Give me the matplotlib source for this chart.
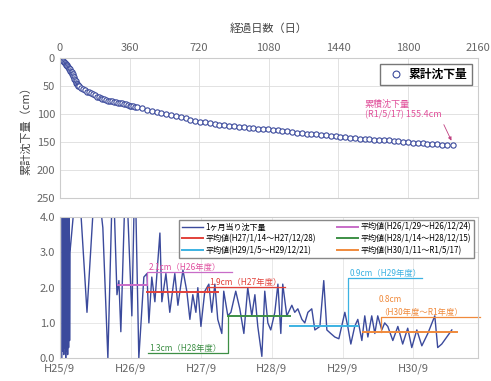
import matplotlib.pyplot as plt

plt.rcParams['font.family'] = ['Noto Sans CJK JP', 'DejaVu Sans']

# --- top: cumulative settlement (cm) vs elapsed days ---
days = [0, 3, 6, 9, 12, 15, 18, 21, 24, 27, 30, 33, 36, 39, 42, 45, 48, 51, 54, 57, 60,
        63, 66, 69, 72, 75, 78, 81, 84, 87, 90, 93, 96, 99,
        110, 120, 130, 140, 150, 160, 170, 180, 190, 200, 210, 220, 230, 240, 250, 260,
        270, 280, 290, 300, 310, 320, 330, 340, 350, 360, 370, 380, 390, 400,
        425, 450, 475, 500, 525, 550, 575, 600, 625, 650, 675, 700, 725, 750, 775, 800, 825,
        850, 875, 900, 925, 950, 975, 1000, 1025, 1050, 1075, 1100, 1125, 1150, 1175, 1200,
        1225, 1250, 1275, 1300, 1325, 1350, 1375, 1400, 1425, 1450, 1475, 1500, 1525, 1550,
        1575, 1600, 1625, 1650, 1675, 1700, 1725, 1750, 1775, 1800, 1825, 1850, 1875, 1900,
        1925, 1950, 1975, 2000, 2030]
settle = [0, 1, 2, 2.8, 3.6, 5, 6.2, 7.4, 8.6, 9.8, 11, 12.2, 13.5, 15.2, 16.8, 18, 19.2,
          20.6, 22.5, 24.3, 26, 27.8, 29.5, 32, 34.5, 37, 39.5, 42, 44, 45.7, 47, 48.3, 49.5,
          50.7,
          53, 56, 58, 60, 61.5, 63, 65, 67, 69, 70, 71.5, 73, 74, 75, 76, 76.5,
          77.5, 78, 79, 80, 80.5, 81, 82, 83, 84, 85, 85.5, 86.5, 87, 88,
          90, 92, 94.5, 97, 98.5, 100, 102, 104, 106, 108, 110, 112, 113.5, 115, 116.5, 118, 119,
          120, 121, 122, 123, 124, 124.5, 125, 126, 127, 127.5, 128, 129, 130, 131, 132,
          133, 134, 135, 136, 136.5, 137, 138, 139, 140, 141, 141.5, 142, 143, 144,
          144.5, 145, 145.5, 146, 146.5, 147, 148, 149, 149.5, 150, 151, 152, 152.5, 153,
          153.5, 154, 154.5, 155, 155.4]

# --- bottom: settlement per month (cm) ---
m_days = [10, 12, 15, 17, 20, 22, 25, 27, 30, 32, 35, 37, 40, 42, 45, 47, 50,
          52, 93, 140, 186, 222, 248, 274, 295, 305, 315, 341, 372, 388, 408, 434,
          450, 460, 475, 491, 517, 527, 548, 568, 594, 610, 636, 656, 672, 687, 703, 713,
          729, 749, 770, 785, 801, 816, 837, 847, 868, 884, 909, 930, 951, 971, 992, 1008,
          1023, 1044, 1059, 1075, 1090, 1111, 1127, 1142, 1152, 1173, 1199, 1214, 1230,
          1251, 1266, 1282, 1302, 1318, 1344, 1364, 1380, 1400, 1421, 1442, 1473, 1488,
          1504, 1524, 1540, 1561, 1576, 1592, 1612, 1628, 1643, 1664, 1679, 1695, 1721,
          1747, 1772, 1798, 1819, 1845, 1871, 1902, 1938, 1953, 1974, 2026]
m_vals = [0.0, 8, 0.2, 8, 0.1, 8, 0.3, 8, 0.0, 8, 0.2, 8, 0.1, 8, 0.3, 8, 0.5,
          3.0, 5.5, 1.3, 5.5, 3.7, 0.0, 5.5, 1.8, 2.2, 0.75, 5.5, 1.2, 5.5, 0.0, 2.3,
          2.4, 1.0, 2.3, 1.6, 3.55, 1.6, 2.4, 1.3, 2.4, 1.5, 2.5, 1.9, 1.1, 1.8, 1.3, 2.0,
          0.9, 1.9, 2.1, 1.3, 2.1, 1.1, 0.7, 1.9, 1.2, 1.3, 1.9, 1.4, 0.7, 2.0, 1.2, 1.8,
          0.9, 0.05, 1.9, 1.0, 0.8, 1.3, 2.1, 0.7, 2.1, 1.2, 1.5, 1.3, 1.4,
          1.1, 1.0, 1.3, 1.4, 0.8, 0.9, 2.2, 0.8, 0.7, 0.6, 0.55, 1.3, 0.9,
          0.4, 0.9, 1.1, 0.5, 1.2, 0.6, 1.2, 0.7, 1.2, 0.8, 1.0, 0.9, 0.5,
          0.9, 0.4, 0.85, 0.3, 0.8, 0.35, 0.7, 1.2, 0.3, 0.4, 0.8]

# yearly averages: (start day, end day, value)
avg_labels = ['平均値(H26/1/29～H26/12/24)', '平均値(H27/1/14～H27/12/28)',
              '平均値(H28/1/14～H28/12/15)', '平均値(H29/1/5～H29/12/21)',
              '平均値(H30/1/11～R1/5/17)']
avg_start = [300, 450, 868, 1189, 1566]
avg_end = [450, 816, 1189, 1540, 2051]
avg_val = [2.07, 1.87, 1.2, 0.92, 0.75]
avg_color = ['#c86cc8', '#e2413a', '#3d8f45', '#3cb2e2', '#f08a3c']
avg_text = ['2.1cm（H26年度）', '1.9cm（H27年度）', '1.3cm（H28年度）', '0.9cm（H29年度）',
            '（H30年度～R1年度）']

year_ticks = [0, 365, 730, 1096, 1461, 1826]
year_labels = ['H25/9', 'H26/9', 'H27/9', 'H28/9', 'H29/9', 'H30/9']

blue = '#3b4a9c'
grey = '#666666'

fig = plt.figure(figsize=(4.91, 3.81), dpi=100)
ax1 = fig.add_axes([0.122, 0.480, 0.851, 0.368])
ax2 = fig.add_axes([0.122, 0.060, 0.851, 0.370])

# top chart
ax1.plot(days, settle, 'o', ms=3.8, mfc='white', mec=blue, mew=0.8, label='累計沈下量')
ax1.set_xlim(0, 2160)
ax1.set_ylim(250, 0)
ax1.set_xticks(range(0, 2161, 360))
ax1.set_yticks(range(0, 251, 50))
ax1.xaxis.tick_top()
ax1.xaxis.set_label_position('top')
ax1.set_xlabel('経過日数（日）', fontsize=8, color='#444444', labelpad=8)
ax1.set_ylabel('累計沈下量（cm）', fontsize=8, color='#444444')
ax1.grid(color='#dddddd', lw=0.6)
ax1.tick_params(length=0, labelsize=8, colors=grey)
for s in ax1.spines.values():
    s.set_color('#cccccc')
ax1.legend(loc='upper right', handletextpad=0.1, borderpad=0.35, markerscale=1.3,
           fancybox=False, edgecolor='#555555', prop={'weight': 'bold', 'size': 8.5})
ax1.text(1575, 88, '累積沈下量', color='#e0509a', fontsize=6.5)
ax1.annotate('(R1/5/17) 155.4cm', xy=(2030, 152), xytext=(1575, 106),
             color='#e0509a', fontsize=6.5,
             arrowprops=dict(arrowstyle='-|>', color='#c04080', lw=0.6,
                             mutation_scale=5, relpos=(1.0, 0.0)))

# bottom chart
mline, = ax2.plot(m_days, m_vals, color=blue, lw=1.0, label='1ヶ月当り沈下量')
lines = {}
for lab, x0, x1, v, col in zip(avg_labels, avg_start, avg_end, avg_val, avg_color):
    lines[lab], = ax2.plot([x0, x1], [v, v], color=col, lw=1.4, label=lab)

# annotation call-outs
c = avg_color
ax2.plot([450, 450, 889], [2.07, 2.45, 2.45], color=c[0], lw=0.9)
ax2.text(460, 2.5, avg_text[0], color='#e050a0', fontsize=6)
ax2.plot([760, 760, 1163], [1.87, 2.03, 2.03], color=c[1], lw=0.9)
ax2.text(770, 2.08, avg_text[1], color=c[1], fontsize=6)
ax2.plot([868, 868, 455], [1.2, 0.15, 0.15], color=c[2], lw=0.9)
ax2.text(460, 0.2, avg_text[2], color=c[2], fontsize=6)
ax2.plot([1488, 1488, 1871], [0.92, 2.28, 2.28], color=c[3], lw=0.9)
ax2.text(1500, 2.33, avg_text[3], color=c[3], fontsize=6)
ax2.plot([1660, 1660, 2170], [0.75, 1.17, 1.17], color=c[4], lw=0.9, clip_on=False)
ax2.text(1650, 1.6, '0.8cm', color=c[4], fontsize=6)
ax2.text(1650, 1.22, avg_text[4], color=c[4], fontsize=6, clip_on=False)

ax2.set_xlim(0, 2160)
ax2.set_ylim(0, 4.0)
ax2.set_xticks(year_ticks)
ax2.set_xticklabels(year_labels)
ax2.set_yticks([0, 1, 2, 3, 4])
ax2.set_yticklabels(['0.0', '1.0', '2.0', '3.0', '4.0'])
ax2.grid(color='#e4e4e4', lw=0.6)
ax2.tick_params(length=0, labelsize=8, colors=grey)
for s in ax2.spines.values():
    s.set_color('#cccccc')

order = [avg_labels[1], avg_labels[3], avg_labels[0], avg_labels[2], avg_labels[4]]
handles = [mline] + [lines[k] for k in order]
ax2.legend(handles, ['1ヶ月当り沈下量'] + order, ncol=2, loc='upper right',
           bbox_to_anchor=(1.0, 1.01), fontsize=5.8, handlelength=2.6, handletextpad=0.3,
           columnspacing=2.6, labelspacing=0.3, borderpad=0.35, fancybox=False,
           edgecolor='#888888', framealpha=1)

fig.savefig('out.png', dpi=100)
